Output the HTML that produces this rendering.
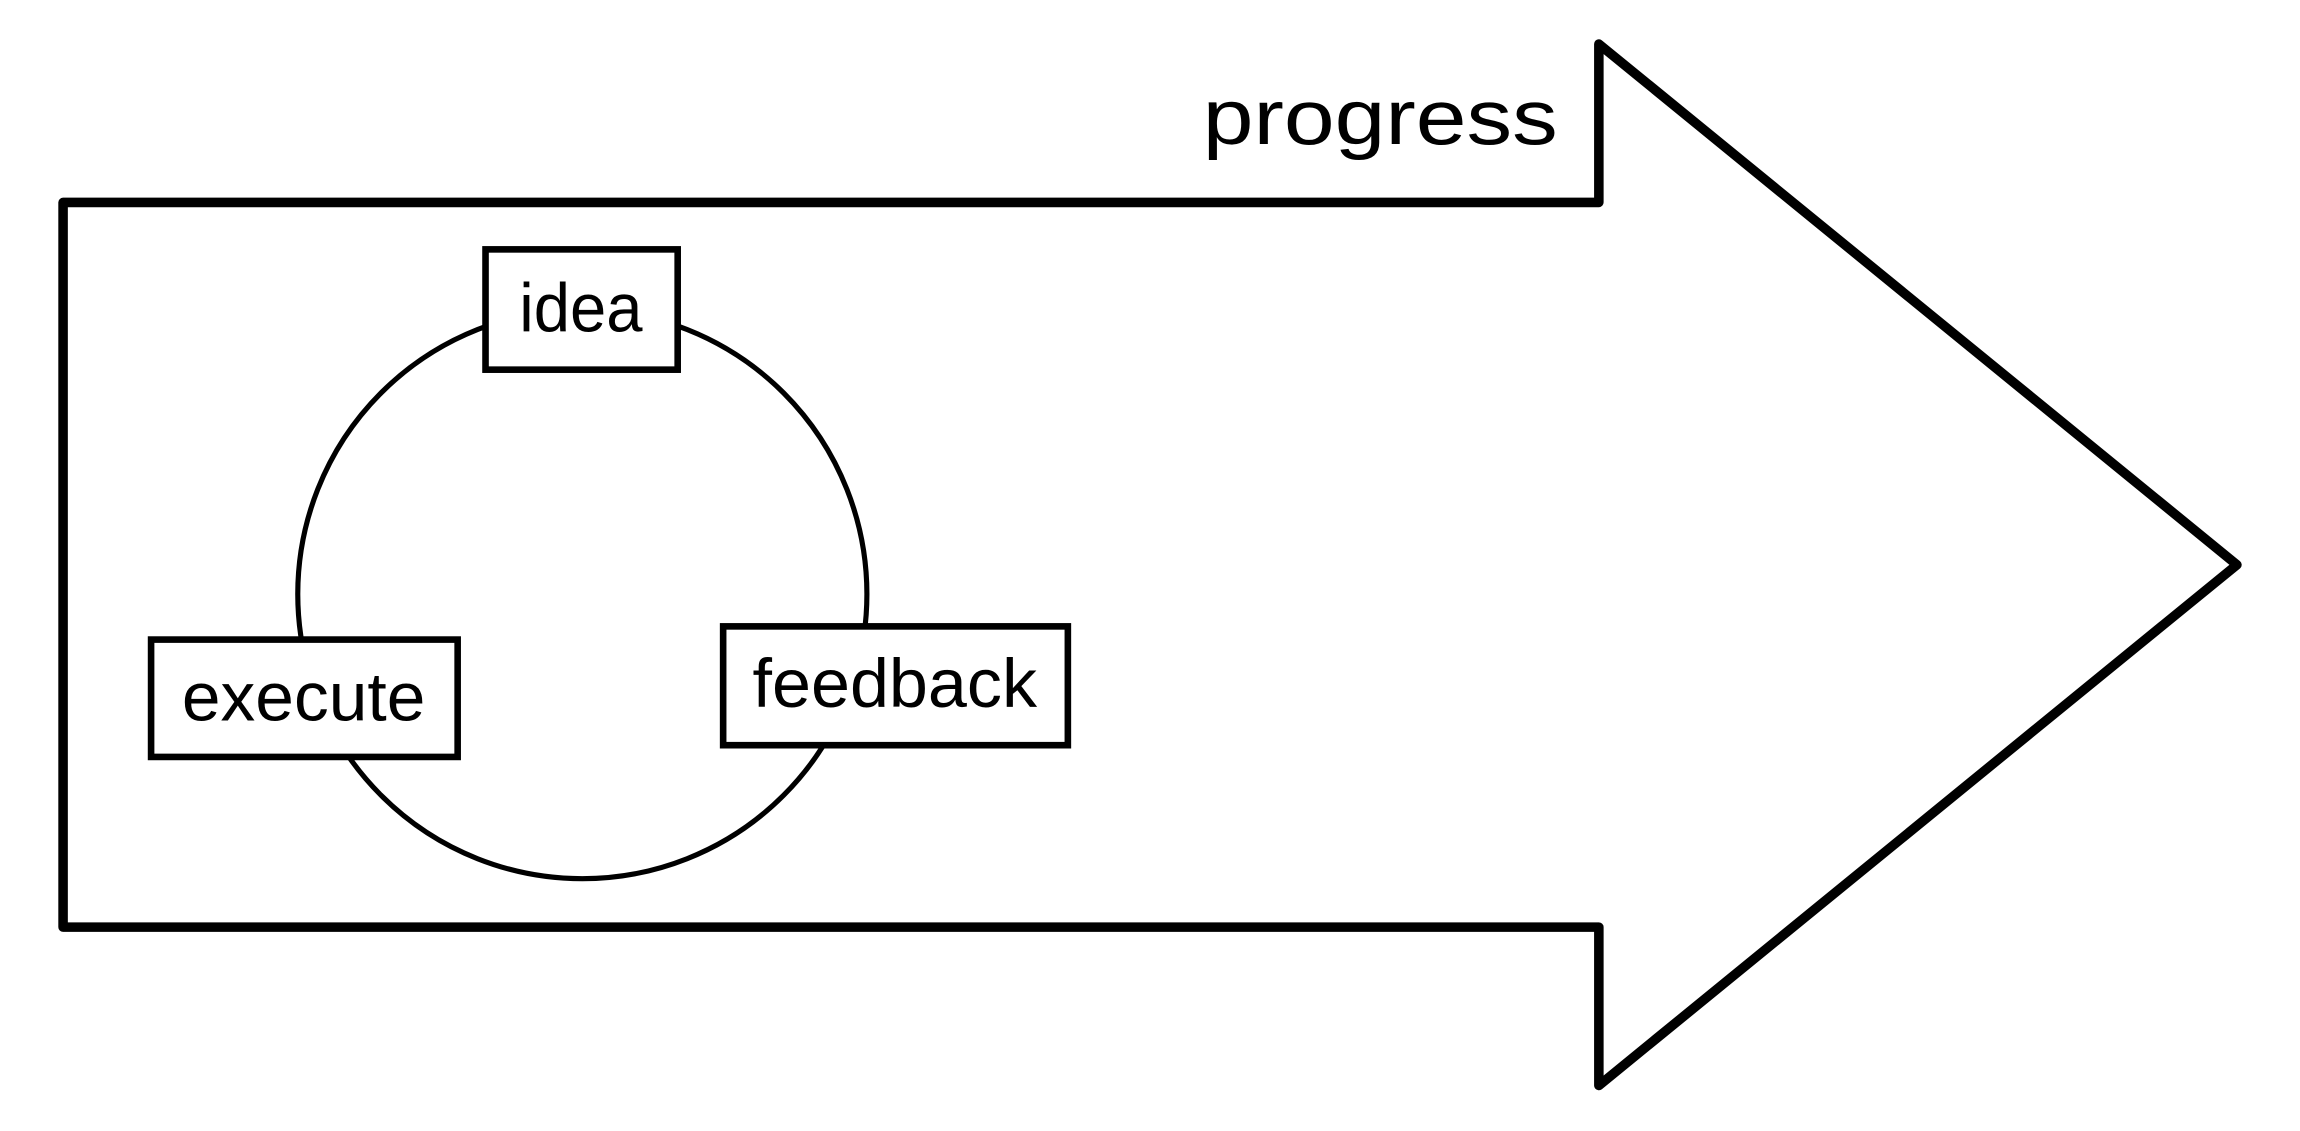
<!DOCTYPE html>
<html><head><meta charset="utf-8"><style>html,body{margin:0;padding:0;background:#fff;}svg{display:block;}</style></head>
<body>
<svg width="2300" height="1131" viewBox="0 0 1568 771" preserveAspectRatio="none" xmlns="http://www.w3.org/2000/svg">
<rect width="1568" height="771" fill="#fff"/>
<path d="M43,138 L1090,138 L1090,30 L1525,385 L1090,740 L1090,632 L43,632 Z" fill="none" stroke="#000" stroke-width="6.5" stroke-linejoin="round"/>
<circle cx="397" cy="405" r="194" fill="none" stroke="#000" stroke-width="3.5"/>
<g font-family="'Liberation Sans', 'DejaVu Sans', sans-serif" fill="#000" text-anchor="middle">
<rect x="331" y="170" width="131" height="82" fill="#fff" stroke="#000" stroke-width="4.5"/>
<text x="396" y="226" font-size="47" textLength="84" lengthAdjust="spacingAndGlyphs">idea</text>
<rect x="103" y="436" width="209" height="80" fill="#fff" stroke="#000" stroke-width="4.5"/>
<text x="207" y="491" font-size="47" textLength="166" lengthAdjust="spacingAndGlyphs">execute</text>
<rect x="493" y="427" width="235" height="81" fill="#fff" stroke="#000" stroke-width="4.5"/>
<text x="610" y="482" font-size="47" textLength="194" lengthAdjust="spacingAndGlyphs">feedback</text>
<text x="941" y="98" font-size="53" textLength="242" lengthAdjust="spacingAndGlyphs">progress</text>
</g>
</svg>
</body></html>
